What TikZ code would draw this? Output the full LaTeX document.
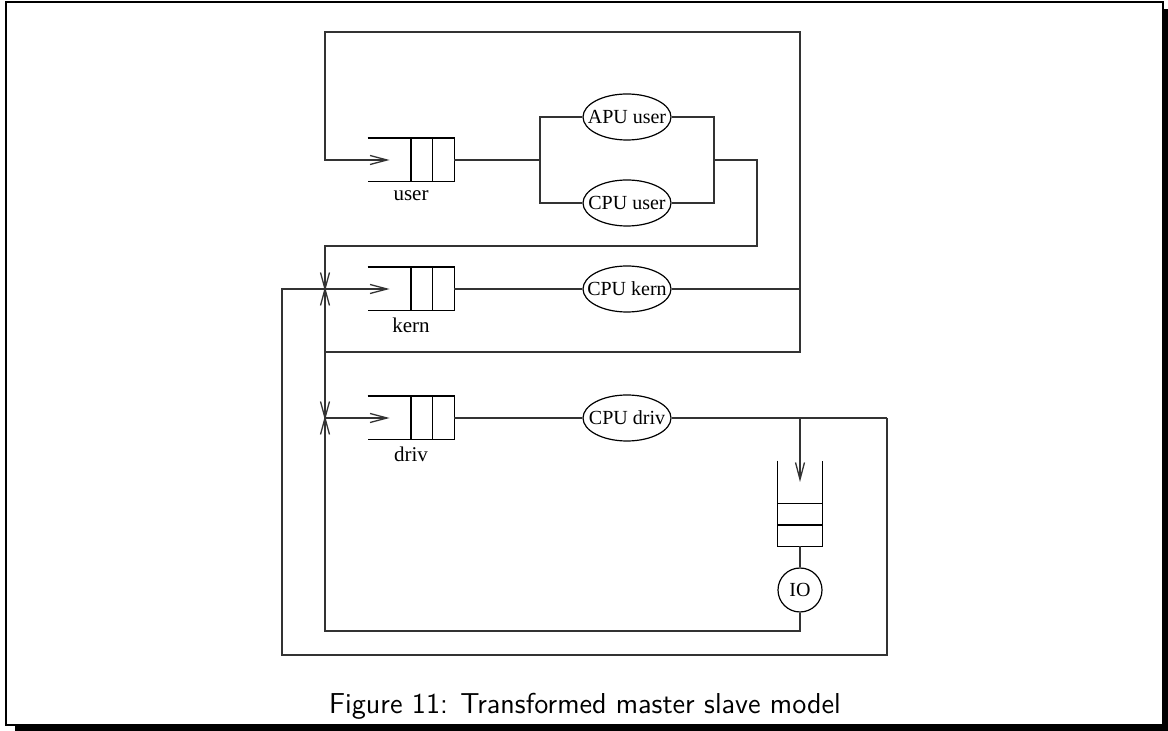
\documentclass[tikz,border=0pt]{standalone}
\usepackage{fontspec}
\setmainfont{Liberation Serif}
\usetikzlibrary{calc,shapes.geometric,arrows.meta}
\tikzset{
  ln/.style={line width=0.65pt, draw=black!80},
  arr/.style={ln, -{Straight Barb[length=8.5pt,width=4.5pt,line width=0.65pt]}},
  lbl/.style={font=\fontsize{10}{12}\selectfont, inner sep=0pt},
  srv/.style={shape=ellipse, draw=black, line width=0.6pt, minimum width=44pt, minimum height=23pt, inner sep=0pt},
  iosrv/.style={circle, draw=black, line width=0.6pt, minimum size=22pt, inner sep=0pt},
  hq/.style={rectangle, minimum width=43pt, minimum height=21.5pt, inner sep=0pt},
  vq/.style={rectangle, minimum width=22pt, minimum height=42.5pt, inner sep=0pt},
  frame/.style={line width=1pt, draw=black},
}
\newcommand{\hqueue}[1]{%
  \draw[line width=0.6pt] (#1.north west) -- (#1.north east) -- (#1.south east) -- (#1.south west);
  \draw[line width=0.6pt] (#1.north) -- (#1.south);
  \draw[line width=0.6pt] ($(#1.north)!0.5!(#1.north east)$) -- ($(#1.south)!0.5!(#1.south east)$);}
\newcommand{\vqueue}[1]{%
  \draw[line width=0.6pt] (#1.north west) -- (#1.south west) -- (#1.south east) -- (#1.north east);
  \draw[line width=0.6pt] (#1.west) -- (#1.east);
  \draw[line width=0.6pt] ($(#1.west)!0.5!(#1.south west)$) -- ($(#1.east)!0.5!(#1.south east)$);}
\newcommand{\xjoin}[1]{%
  \draw[ln] ($(#1)+(-4.5,-16.5)$) -- (#1) -- ($(#1)+(4.5,-16.5)$);
  \draw[ln] ($(#1)+(-4.5,16.5)$) -- (#1) -- ($(#1)+(4.5,16.5)$);}
\begin{document}
\begin{tikzpicture}[x=0.5pt,y=-0.5pt]
\useasboundingbox (0,0) rectangle (1168,731);
% frame with shadow
\fill[black] (1163.5,9) rectangle (1168,731);
\fill[black] (15,725.5) rectangle (1168,731);
\draw[frame] (6,2) rectangle (1163,725);

% queues
\node[hq] (uq) at (411,160) {};
\node[hq] (kq) at (411,289) {};
\node[hq] (dq) at (411,418) {};
\node[vq] (iq) at (800,503.5) {};
\hqueue{uq}\hqueue{kq}\hqueue{dq}\vqueue{iq}
\node[lbl, font=\fontsize{10.5}{12}\selectfont] (ul) at (411,196) {user};
\node[lbl, font=\fontsize{10.5}{12}\selectfont] (kl) at (411,325) {kern};
\node[lbl, font=\fontsize{10.5}{12}\selectfont] (dl) at (411,454) {driv};

% servers
\node[srv, label={[lbl]center:APU user}] (apu) at (627,117) {};
\node[srv, label={[lbl]center:CPU user}] (cpuu) at (627,203) {};
\node[srv, label={[lbl]center:CPU kern}] (cpuk) at (627,289) {};
\node[srv, label={[lbl]center:CPU driv}] (cpud) at (627,418) {};
\node[iosrv, label={[lbl]center:IO}] (io) at (800,590) {};

% coordinates
\coordinate (uqtip) at ($(uq.west)+(22,0)$);
\coordinate (kqtip) at ($(kq.west)+(22,0)$);
\coordinate (dqtip) at ($(dq.west)+(22,0)$);
\coordinate (sl) at (540,160);
\coordinate (sr) at (714,160);
\coordinate (ur) at (757,160);
\coordinate (ub) at (757,246);
\coordinate (ul2) at (325,246);
\coordinate (tl) at (325,32);
\coordinate (tr) at (800,32);
\coordinate (jr) at (800,289);
\coordinate (br) at (800,352);
\coordinate (bl) at (325,352);
\coordinate (J1) at (325,289);
\coordinate (J2) at (325,418);
\coordinate (dr) at (887,418);
\coordinate (dbr) at (887,655);
\coordinate (dbl) at (282,655);
\coordinate (dtl) at (282,289);
\coordinate (dsplit) at (800,418);
\coordinate (iqtip) at (800,482);
\coordinate (iob) at (800,631);
\coordinate (iobl) at (325,631);

% user stage
\draw[ln] (uq.east) -- (sl);
\draw[ln] (sl) |- (apu.west);
\draw[ln] (sl) |- (cpuu.west);
\draw[ln] (apu.east) -| (sr);
\draw[ln] (cpuu.east) -| (sr);
\draw[ln] (sr) -- (ur) -- (ub) -- (ul2) -- (J1);

% kern stage
\draw[ln] (kq.east) -- (cpuk.west);
\draw[ln] (cpuk.east) -- (jr);
\draw[arr] (jr) -- (tr) -- (tl) -- (tl |- uq.west) -- (uqtip);
\draw[ln] (jr) -- (br) -- (bl) -- (J1);
\draw[ln] (bl) -- (J2);

% driv stage
\draw[ln] (dq.east) -- (cpud.west);
\draw[ln] (cpud.east) -- (dr);
\draw[arr] (dr) -- (dbr) -- (dbl) -- (dtl) -- (kqtip);
\draw[arr] (dsplit) -- (iqtip);
\draw[ln] (iq.south) -- (io.north);
\draw[ln] (io.south) -- (iob) -- (iobl) -- (J2);
\draw[arr] (J2) -- (dqtip);

\xjoin{J1}
\xjoin{J2}

% caption
\node (cap) at (585,706) {\fontsize{14.4}{17}\selectfont\sffamily Figure 11: Transformed master slave model};
\end{tikzpicture}
\end{document}
